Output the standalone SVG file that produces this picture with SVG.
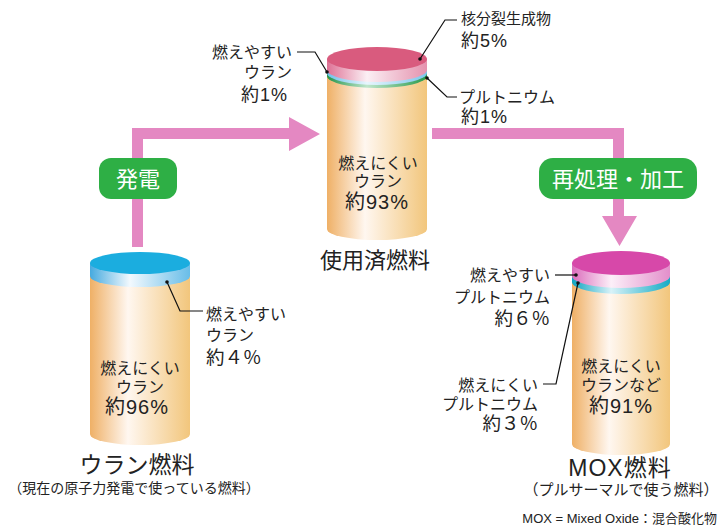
<svg xmlns="http://www.w3.org/2000/svg" width="722" height="526" viewBox="0 0 722 526">
  <style>
    text { font-family: "Liberation Sans", "Noto Sans CJK JP", sans-serif; fill: #222; }
    .s16 { font-size: 16px; }
    .s15 { font-size: 15px; }
    .pct { font-size: 18px; letter-spacing: 1px; }
    .pct-body { font-size: 20px; letter-spacing: 1px; }
    .pct-wide { font-size: 18.5px; }
    .big { font-size: 22px; }
    .mid { text-anchor: middle; }
    .end { text-anchor: end; }
    .tag { font-size: 22px; fill: #fff; text-anchor: middle; }
    .lead { fill: none; stroke: #111; stroke-width: 1.2; }
    .arrow { fill: #E488C2; }
    .badge { fill: #2EAF45; }
  </style>
  <defs>
    <linearGradient id="body" x1="0" y1="0" x2="1" y2="0">
      <stop offset="0" stop-color="#EFB066"/>
      <stop offset="0.38" stop-color="#FFF7F0"/>
      <stop offset="1" stop-color="#F2C67C"/>
    </linearGradient>
    <linearGradient id="rimBlue" x1="0" y1="0" x2="1" y2="0">
      <stop offset="0" stop-color="#46AADF"/>
      <stop offset="0.4" stop-color="#F2F9FE"/>
      <stop offset="1" stop-color="#68BDE8"/>
    </linearGradient>
    <linearGradient id="rimRose" x1="0" y1="0" x2="1" y2="0">
      <stop offset="0" stop-color="#DE7195"/>
      <stop offset="0.4" stop-color="#FBEFF4"/>
      <stop offset="1" stop-color="#E592AE"/>
    </linearGradient>
    <linearGradient id="bandSky" x1="0" y1="0" x2="1" y2="0">
      <stop offset="0" stop-color="#6EC0EA"/>
      <stop offset="0.4" stop-color="#E8F6FD"/>
      <stop offset="1" stop-color="#7CC6EC"/>
    </linearGradient>
    <linearGradient id="bandGreen" x1="0" y1="0" x2="1" y2="0">
      <stop offset="0" stop-color="#23944A"/>
      <stop offset="0.4" stop-color="#BFE6CC"/>
      <stop offset="1" stop-color="#289A4C"/>
    </linearGradient>
    <linearGradient id="rimMagenta" x1="0" y1="0" x2="1" y2="0">
      <stop offset="0" stop-color="#DB6CBC"/>
      <stop offset="0.4" stop-color="#FCEFF8"/>
      <stop offset="1" stop-color="#E38FCB"/>
    </linearGradient>
    <linearGradient id="bandCyan" x1="0" y1="0" x2="1" y2="0">
      <stop offset="0" stop-color="#0FA5C1"/>
      <stop offset="0.4" stop-color="#D8F2F8"/>
      <stop offset="1" stop-color="#15ABC5"/>
    </linearGradient>
  </defs>

  <!-- flow arrows -->
  <g id="connectors">
    <polygon class="arrow" points="132,247 132,128 289,128 289,117 320,134 289,151 289,139 143,139 143,247"/>
    <polygon class="arrow" points="432,128 624,128 624,216 637,216 619.5,246 602,216 613,216 613,139 432,139"/>
  </g>

  <!-- process badges -->
  <g id="badge-power">
    <rect class="badge" x="99" y="158" width="78" height="41" rx="12"/>
    <text class="tag" x="138" y="187">発電</text>
  </g>
  <g id="badge-reprocess">
    <rect class="badge" x="539" y="158" width="158" height="41" rx="14"/>
    <text class="tag" x="618" y="187">再処理・加工</text>
  </g>

  <!-- uranium fuel -->
  <g id="uranium-fuel">
    <path d="M90,276 L90,434 A50,11 0 0 0 190,434 L190,276 Z" fill="url(#body)"/>
    <path d="M90,263 L90,276 A50,11 0 0 0 190,276 L190,263 Z" fill="url(#rimBlue)"/>
    <ellipse cx="140" cy="263" rx="50" ry="11" fill="#1BADDF"/>
    <text class="s16 mid" x="140" y="374">燃えにくい</text>
    <text class="s16 mid" x="140" y="393">ウラン</text>
    <text class="pct-body mid" x="137" y="414">約96%</text>
    <path class="lead" d="M167,282 L180,311 L203,311"/>
    <circle cx="167" cy="282" r="1.8" fill="#111"/>
    <text class="s16" x="206" y="320">燃えやすい</text>
    <text class="s16" x="206" y="341">ウラン</text>
    <text class="pct-wide" x="206" y="364">約４％</text>
    <text class="mid" x="137" y="473" font-size="23">ウラン燃料</text>
    <text class="mid" x="134" y="493" font-size="14">（現在の原子力発電で使っている燃料）</text>
  </g>

  <!-- spent fuel -->
  <g id="spent-fuel">
    <path d="M327,76 L327,229 A50,11 0 0 0 427,229 L427,76 Z" fill="url(#body)"/>
    <path d="M327,73 L327,76 A50,12 0 0 0 427,76 L427,73 Z" fill="url(#bandGreen)"/>
    <path d="M327,70 L327,73 A50,12 0 0 0 427,73 L427,70 Z" fill="url(#bandSky)"/>
    <path d="M327,59 L327,70 A50,12 0 0 0 427,70 L427,59 Z" fill="url(#rimRose)"/>
    <ellipse cx="377" cy="59" rx="50" ry="12" fill="#D95B7E"/>
    <text class="s16 mid" x="378" y="169">燃えにくい</text>
    <text class="s16 mid" x="378" y="187">ウラン</text>
    <text class="pct-body mid" x="377" y="209">約93%</text>
    <text class="big mid" x="375" y="268">使用済燃料</text>

    <path class="lead" d="M420,59 L445,20 L457,20"/>
    <circle cx="420" cy="59" r="1.8" fill="#111"/>
    <text class="s15" x="461" y="24">核分裂生成物</text>
    <text class="pct" x="461" y="47">約5%</text>

    <path class="lead" d="M297,52 L315,52 L327,72"/>
    <circle cx="327" cy="72" r="1.8" fill="#111"/>
    <text class="s16 end" x="292" y="58">燃えやすい</text>
    <text class="s16 end" x="292" y="78">ウラン</text>
    <text class="pct end" x="288" y="101">約1%</text>

    <path class="lead" d="M427,78 L447,97 L457,97"/>
    <circle cx="427" cy="78" r="1.8" fill="#111"/>
    <text class="s16" x="459" y="103">プルトニウム</text>
    <text class="pct" x="461" y="123">約1%</text>
  </g>

  <!-- MOX fuel -->
  <g id="mox-fuel">
    <path d="M572,282 L572,444 A49,11 0 0 0 670,444 L670,282 Z" fill="url(#body)"/>
    <path d="M572,276 L572,282 A49,12 0 0 0 670,282 L670,276 Z" fill="url(#bandCyan)"/>
    <path d="M572,263 L572,276 A49,12 0 0 0 670,276 L670,263 Z" fill="url(#rimMagenta)"/>
    <ellipse cx="621" cy="263" rx="49" ry="12" fill="#D748A9"/>
    <text class="s16 mid" x="621" y="372">燃えにくい</text>
    <text class="s16 mid" x="621" y="391">ウランなど</text>
    <text class="pct-body mid" x="621" y="413">約91%</text>

    <path class="lead" d="M555,275 L576,275"/>
    <circle cx="576" cy="275" r="1.8" fill="#111"/>
    <text class="s16 end" x="550" y="281">燃えやすい</text>
    <text class="s16 end" x="550" y="303">プルトニウム</text>
    <text class="pct-wide end" x="550" y="325">約６％</text>

    <path class="lead" d="M578,283 L556,384 L543,384"/>
    <circle cx="578" cy="283" r="1.8" fill="#111"/>
    <text class="s16 end" x="538" y="391">燃えにくい</text>
    <text class="s16 end" x="538" y="410">プルトニウム</text>
    <text class="pct-wide end" x="538" y="430">約３％</text>

    <text class="mid" x="620" y="476" font-size="23" letter-spacing="1">MOX燃料</text>
    <text class="s15 mid" x="621" y="495">（プルサーマルで使う燃料）</text>
    <text class="end" x="717" y="523" font-size="13">MOX = Mixed Oxide：混合酸化物</text>
  </g>
</svg>
